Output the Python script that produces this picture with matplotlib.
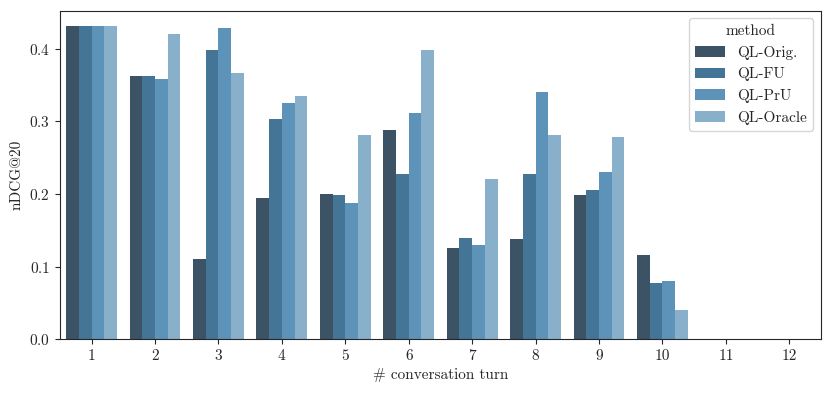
import numpy as np
import pandas as pd
import matplotlib
matplotlib.use("Agg")
import matplotlib.pyplot as plt
import seaborn as sns

# values
turns = [1, 2, 3, 4, 5, 6, 7, 8, 9, 10, 11, 12]
methods = ["QL-Orig.", "QL-FU", "QL-PrU", "QL-Oracle"]

ql_orig = [0.431, 0.362, 0.111, 0.194, 0.200, 0.288, 0.126, 0.138, 0.198, 0.116, 0.0, 0.0]
ql_fu = [0.431, 0.362, 0.398, 0.303, 0.199, 0.227, 0.139, 0.228, 0.206, 0.077, 0.0, 0.0]
ql_pru = [0.431, 0.359, 0.429, 0.325, 0.188, 0.312, 0.130, 0.340, 0.231, 0.080, 0.0, 0.0]
ql_oracle = [0.431, 0.421, 0.366, 0.335, 0.281, 0.399, 0.220, 0.281, 0.278, 0.040, 0.0, 0.0]

# long format for seaborn
rows = []
for m, vals in zip(methods, [ql_orig, ql_fu, ql_pru, ql_oracle]):
    for t, v in zip(turns, vals):
        rows.append({"turn": t, "nDCG@20": v, "method": m})
data = pd.DataFrame(rows)

sns.set_style("ticks")
plt.rcParams["font.family"] = "serif"
plt.rcParams["font.serif"] = ["cmr10"]
plt.rcParams["mathtext.fontset"] = "cm"
plt.rcParams["axes.formatter.use_mathtext"] = True
plt.rcParams["font.size"] = 11

fig, ax = plt.subplots(figsize=(8.31, 3.94), dpi=100)
palette = sns.color_palette("Blues_d", 4)[::-1]
sns.barplot(data=data, x="turn", y="nDCG@20", hue="method", palette=palette,
            linewidth=0, ax=ax)

ax.set_xlabel("# conversation turn", fontsize=11)
ax.set_ylabel("nDCG@20", fontsize=11)
ax.tick_params(labelsize=11)
ax.legend(title="method", loc="upper right", fontsize=11, title_fontsize=11)

fig.subplots_adjust(left=0.072, right=0.988, top=0.973, bottom=0.139)
fig.savefig("out.png", dpi=100)
